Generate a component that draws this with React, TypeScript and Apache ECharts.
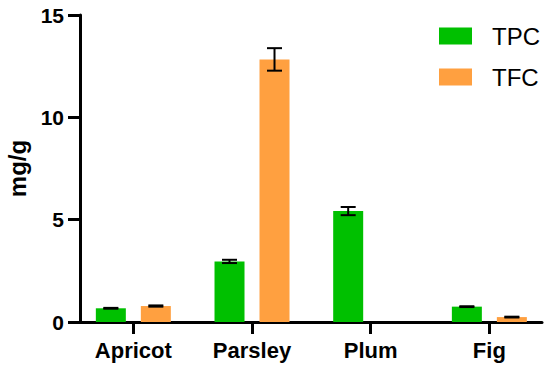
import React, { useEffect, useRef } from "react";
import * as echarts from "echarts";

const categories = ["Apricot", "Parsley", "Plum", "Fig"];
const tpcValues = [0.67, 2.96, 5.42, 0.75];
const tpcErrors = [0.02, 0.08, 0.2, 0.02];
const tfcValues = [0.78, 12.83, 0, 0.24];
const tfcErrors = [0.03, 0.55, null, 0.02];
const yTicks = { min: 0, max: 15, interval: 5 };

const FONT = "'Liberation Sans', Arial, Helvetica, sans-serif";

function errData(values: number[], errors: (number | null)[]) {
  const out: any[] = [];
  values.forEach((v, i) => {
    const e = errors[i];
    if (e !== null && e !== undefined) out.push([i, v - e, v + e]);
  });
  return out;
}

function makeErrSeries(name: string, values: number[], errors: (number | null)[], offset: number) {
  return {
    type: "custom",
    name: name + "-err",
    xAxisIndex: 0,
    yAxisIndex: 0,
    z: 5,
    silent: true,
    data: errData(values, errors),
    renderItem: (params: any, api: any) => {
      const idx = api.value(0);
      const lo = api.coord([idx, api.value(1)]);
      const hi = api.coord([idx, api.value(2)]);
      const x = lo[0] + offset;
      const half = 7.5;
      const style = { stroke: "#000", lineWidth: 2 };
      return {
        type: "group",
        children: [
          { type: "line", shape: { x1: x, y1: lo[1], x2: x, y2: hi[1] }, style },
          { type: "line", shape: { x1: x - half, y1: hi[1], x2: x + half, y2: hi[1] }, style },
          { type: "line", shape: { x1: x - half, y1: lo[1], x2: x + half, y2: lo[1] }, style },
        ],
      };
    },
  };
}

export default function App() {
  const ref = useRef<HTMLDivElement>(null);
  useEffect(() => {
    if (!ref.current) return;
    const chart = echarts.init(ref.current, undefined, { renderer: "svg" });
    const option: any = {
      animation: false,
      backgroundColor: "#fff",
      textStyle: { fontFamily: FONT },
      grid: [
        { left: 74, top: 15, width: 474.7, height: 307, containLabel: false, outerBoundsMode: "none" },
        { left: 80, top: 15, width: 462, height: 307, containLabel: false, outerBoundsMode: "none" },
      ],
      legend: {
        data: ["TPC", "TFC"],
        orient: "vertical",
        left: 439,
        top: 24,
        padding: 0,
        itemWidth: 33,
        itemHeight: 17,
        itemGap: 17,
        icon: "rect",
        textStyle: {
          fontFamily: FONT,
          fontSize: 24,
          color: "#000",
          lineHeight: 24,
          padding: [0, 0, 0, 15],
        },
      },
      xAxis: [
        {
          type: "category",
          gridIndex: 0,
          data: categories,
          axisLine: { show: true, lineStyle: { color: "rgba(0,0,0,0)" } },
          axisTick: { show: true, alignWithLabel: true, length: 12, lineStyle: { color: "#000", width: 3 } },
          axisLabel: { fontFamily: FONT, fontSize: 22, fontWeight: "bold", color: "#000", margin: 17 },
          splitLine: { show: false },
        },
        {
          type: "value",
          gridIndex: 1,
          min: 0,
          max: 1,
          axisLine: { show: true, lineStyle: { color: "#000", width: 3 } },
          axisTick: { show: false },
          axisLabel: { show: false },
          splitLine: { show: false },
        },
      ],
      yAxis: [
        {
          type: "value",
          gridIndex: 0,
          min: yTicks.min,
          max: yTicks.max,
          interval: yTicks.interval,
          show: false,
          splitLine: { show: false },
        },
        {
          type: "value",
          gridIndex: 1,
          min: yTicks.min,
          max: yTicks.max,
          interval: yTicks.interval,
          name: "mg/g",
          nameLocation: "middle",
          nameGap: 50,
          nameTextStyle: { fontFamily: FONT, fontSize: 24, fontWeight: "bold", color: "#000" },
          axisLine: { show: true, lineStyle: { color: "#000", width: 3 } },
          axisTick: { show: true, length: 12, lineStyle: { color: "#000", width: 3 } },
          axisLabel: { fontFamily: FONT, fontSize: 21, fontWeight: "bold", color: "#000", margin: 16 },
          splitLine: { show: false },
        },
      ],
      series: [
        {
          type: "bar",
          name: "TPC",
          xAxisIndex: 0,
          yAxisIndex: 0,
          data: tpcValues,
          barWidth: 30,
          barGap: "50%",
          itemStyle: { color: "#00C000" },
        },
        {
          type: "bar",
          name: "TFC",
          xAxisIndex: 0,
          yAxisIndex: 0,
          data: tfcValues,
          barWidth: 30,
          barGap: "50%",
          itemStyle: { color: "#FFA040" },
        },
        makeErrSeries("TPC", tpcValues, tpcErrors, -22.5),
        makeErrSeries("TFC", tfcValues, tfcErrors, 22.5),
      ],
    };
    chart.setOption(option);
    return () => chart.dispose();
  }, []);
  return (
    <div
      ref={ref}
      style={{ position: "fixed", left: 0, top: 0, width: 550, height: 369, background: "#fff" }}
    />
  );
}
